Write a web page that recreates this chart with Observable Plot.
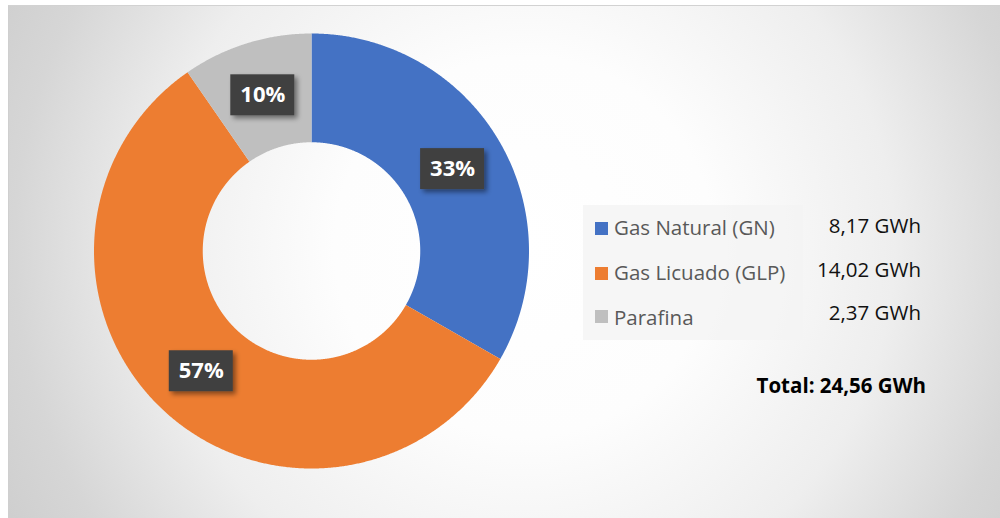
<!DOCTYPE html>
<html>
<head>
<meta charset="utf-8">
<script src="https://cdn.jsdelivr.net/npm/d3@7"></script>
<script src="https://cdn.jsdelivr.net/npm/@observablehq/plot@0.6"></script>
<style>
  html, body { margin: 0; padding: 0; background: #ffffff; }
  #wrap { position: relative; width: 1000px; height: 518px; overflow: hidden; font-family: "Open Sans", "Noto Sans", sans-serif; }
  #bg { position: absolute; left: 8px; top: 5px; right: 0; bottom: 0;
        border-left: 1px solid #cfcfcf; border-top: 1px solid #d2d2d2;
        background: radial-gradient(circle at 52% 47%, #ffffff 0px, #fdfdfd 190px, #eeeeee 370px, #d6d6d6 510px, #c8c8c8 650px); }
  #chart { position: absolute; left: 0; top: 0; }
  #legendBox { position: absolute; left: 583px; top: 205px; width: 220px; height: 135px; background: rgba(244,244,244,0.8); }
  .lg { position: absolute; font-size: 20.5px; line-height: 26px; color: #595959; white-space: nowrap; }
  .sw { position: absolute; width: 13px; height: 13px; }
  .val { position: absolute; font-size: 20.5px; line-height: 26px; color: #111; white-space: nowrap; text-align: right; right: 79px; }
  #total { position: absolute; right: 74px; top: 372px; font-size: 20.5px; line-height: 26px; font-weight: bold; color: #000; white-space: nowrap; }
</style>
</head>
<body>
<div id="wrap">
  <div id="bg"></div>
  <div id="legendBox"></div>
  <div id="chart"></div>
  <div id="legend"></div>
  <div id="total"></div>
</div>
<script>
// ---- data ----
const names = ["Gas Natural (GN)", "Gas Licuado (GLP)", "Parafina"];
const values = [8.17, 14.02, 2.37];
const valueLabels = ["8,17 GWh", "14,02 GWh", "2,37 GWh"];
const percentLabels = ["33%", "57%", "10%"];
const colors = ["#4472C4", "#ED7D31", "#BFBFBF"];
const totalLabel = "Total: 24,56 GWh";

// ---- geometry (unit radius donut) ----
const innerRatio = 0.5;
const pie = d3.pie().sort(null).value(d => d)(values);
const arcPoints = [];
const labels = [];
pie.forEach((p, i) => {
  const a0 = p.startAngle, a1 = p.endAngle;
  const n = Math.max(2, Math.ceil((a1 - a0) / 0.005));
  for (let k = 0; k <= n; k++) {
    const a = a0 + (a1 - a0) * k / n;
    arcPoints.push({name: names[i], x: Math.sin(a), y: Math.cos(a)});
  }
  for (let k = n; k >= 0; k--) {
    const a = a0 + (a1 - a0) * k / n;
    arcPoints.push({name: names[i], x: innerRatio * Math.sin(a), y: innerRatio * Math.cos(a)});
  }
  const am = (a0 + a1) / 2, rm = (1 + innerRatio) / 2;
  labels.push({name: names[i], text: percentLabels[i], x: rm * Math.sin(am), y: rm * Math.cos(am)});
});

// layout: donut center at (311, 250.5) px, outer radius 217.5 px
const cx = 311, cy = 250.5, R = 217.5, W = 1000, H = 518;

const chart = Plot.plot({
  width: W,
  height: H,
  margin: 0,
  style: {background: "transparent", overflow: "visible"},
  x: {domain: [-cx / R, (W - cx) / R], range: [0, W], axis: null},
  y: {domain: [-(H - cy) / R, cy / R], range: [H, 0], axis: null},
  color: {domain: names, range: colors},
  marks: [
    Plot.line(arcPoints, {x: "x", y: "y", z: "name", fill: "name", stroke: "none"}),
    Plot.rect(labels, {x1: "x", x2: "x", y1: "y", y2: "y",
      insetLeft: -32, insetRight: -32, insetTop: -20.5, insetBottom: -20.5, fill: "#404040"}),
    Plot.text(labels, {x: "x", y: "y", text: "text", fill: "white", fontWeight: "bold",
      fontSize: 22, fontFamily: "Open Sans, sans-serif"})
  ]
});

// drop shadow on label boxes
const ns = "http://www.w3.org/2000/svg";
const defs = document.createElementNS(ns, "defs");
defs.innerHTML = '<filter id="lblshadow" x="-30%" y="-30%" width="160%" height="160%"><feDropShadow dx="3" dy="3" stdDeviation="2.5" flood-color="#000" flood-opacity="0.45"/></filter>';
chart.insertBefore(defs, chart.firstChild);
const rg = chart.querySelector('g[aria-label="rect"]');
if (rg) rg.setAttribute("filter", "url(#lblshadow)");
document.getElementById("chart").appendChild(chart);

// ---- legend ----
const legend = document.getElementById("legend");
const swTop = [222, 267, 310];
const labTop = [214, 259, 304];
const valTop = [212, 256, 299];
names.forEach((n, i) => {
  const sw = document.createElement("div");
  sw.className = "sw";
  sw.style.left = "595px";
  sw.style.top = swTop[i] + "px";
  sw.style.background = colors[i];
  legend.appendChild(sw);
  const t = document.createElement("div");
  t.className = "lg";
  t.style.left = "614px";
  t.style.top = labTop[i] + "px";
  t.textContent = n;
  legend.appendChild(t);
  const v = document.createElement("div");
  v.className = "val";
  v.style.top = valTop[i] + "px";
  v.textContent = valueLabels[i];
  legend.appendChild(v);
});
document.getElementById("total").textContent = totalLabel;
</script>
</body>
</html>
